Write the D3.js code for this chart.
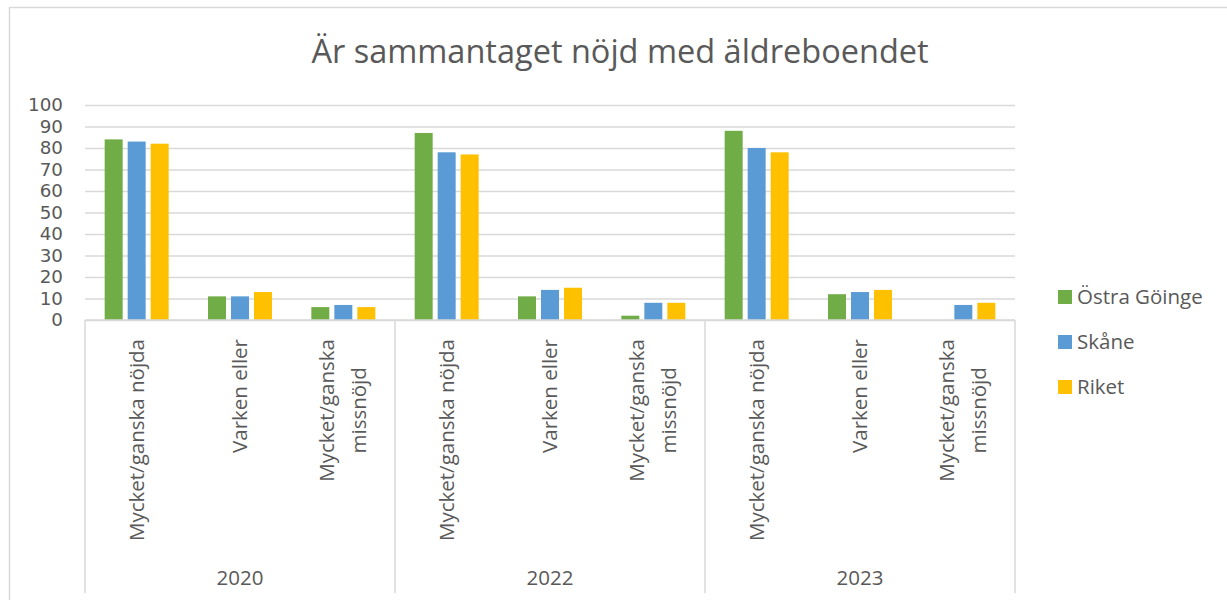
<!DOCTYPE html>
<html>
<head>
<meta charset="utf-8">
<script src="https://cdn.jsdelivr.net/npm/d3@7"></script>
<style>
  body { margin: 0; background: #fff; }
  text { font-family: "Open Sans", "Noto Sans", sans-serif; fill: #595959; }
</style>
</head>
<body>
<div class="chart"></div>
<script>
var svgWidth = 1227;
var svgHeight = 600;

// data
var years = ["2020", "2022", "2023"];
var answers = ["Mycket/ganska nöjda", "Varken eller", "Mycket/ganska missnöjd"];
var answerLines = [["Mycket/ganska nöjda"], ["Varken eller"], ["Mycket/ganska", "missnöjd"]];
var seriesNames = ["Östra Göinge", "Skåne", "Riket"];
var seriesColors = ["#70AD47", "#5B9BD5", "#FFC000"];
var ostraGoinge = [84, 11, 6, 87, 11, 2, 88, 12, null];
var skane = [83, 11, 7, 78, 14, 8, 80, 13, 7];
var riket = [82, 13, 6, 77, 15, 8, 78, 14, 8];
var yTicks = [0, 10, 20, 30, 40, 50, 60, 70, 80, 90, 100];

var seriesValues = [ostraGoinge, skane, riket];

var margin = { top: 105, left: 85 };
var width = 930;
var height = 215;
var axisBottom = 488; // where the category axis lines stop

var svg = d3.select(".chart")
  .append("svg")
  .attr("width", svgWidth)
  .attr("height", svgHeight);

// outer chart border
svg.append("rect")
  .attr("x", 9.5).attr("y", 7.5)
  .attr("width", svgWidth + 10).attr("height", svgHeight + 10)
  .attr("fill", "none")
  .attr("stroke", "#d9d9d9")
  .attr("stroke-width", 1.5);

var chartGroup = svg.append("g")
  .attr("transform", `translate(${margin.left}, ${margin.top})`);

// build the category keys (year + answer)
var cats = [];
years.forEach(function(y) {
  answers.forEach(function(a, j) {
    cats.push({ year: y, answer: a, lines: answerLines[j], key: y + "|" + a });
  });
});

var xScale = d3.scaleBand()
  .domain(cats.map(d => d.key))
  .range([0, width]);

var yearScale = d3.scaleBand()
  .domain(years)
  .range([0, width]);

var groupWidth = 64;
var x1 = d3.scaleBand()
  .domain(seriesNames)
  .range([0, groupWidth])
  .paddingInner(5 / 23);

var yScale = d3.scaleLinear()
  .domain([0, 100])
  .range([height, 0]);

// gridlines + y labels
var leftAxis = d3.axisLeft(yScale)
  .tickValues(yTicks)
  .tickSize(-width)
  .tickPadding(22);

var yAxis = chartGroup.append("g").call(leftAxis);
yAxis.select(".domain").remove();
yAxis.selectAll("line").attr("stroke", "#d9d9d9").attr("stroke-width", 1.5);
yAxis.selectAll("text")
  .attr("font-size", "18.3px")
  .attr("fill", "#595959")
  .style("font-family", "'DejaVu Sans', sans-serif");

// bars
var barData = [];
cats.forEach(function(c, i) {
  seriesNames.forEach(function(s, k) {
    if (seriesValues[k][i] != null) {
      barData.push({ key: c.key, series: s, value: seriesValues[k][i], color: seriesColors[k] });
    }
  });
});

chartGroup.append("g").selectAll("rect")
  .data(barData)
  .enter()
  .append("rect")
  .attr("x", d => xScale(d.key) + (xScale.bandwidth() - groupWidth) / 2 + x1(d.series))
  .attr("y", d => yScale(d.value))
  .attr("width", x1.bandwidth())
  .attr("height", d => height - yScale(d.value))
  .attr("fill", d => d.color);

// category axis lines
var xLines = chartGroup.append("g");
xLines.append("line")
  .attr("x1", 0).attr("x2", 0)
  .attr("y1", height).attr("y2", axisBottom)
  .attr("stroke", "#d9d9d9").attr("stroke-width", 1.5);
years.forEach(function(y) {
  var xe = yearScale(y) + yearScale.bandwidth();
  xLines.append("line")
    .attr("x1", xe).attr("x2", xe)
    .attr("y1", height).attr("y2", axisBottom)
    .attr("stroke", "#d9d9d9").attr("stroke-width", 1.5);
});
xLines.append("line")
  .attr("x1", 0).attr("x2", width)
  .attr("y1", height).attr("y2", height)
  .attr("stroke", "#d9d9d9").attr("stroke-width", 1.5);

// rotated answer labels
var labelGroup = chartGroup.append("g");
cats.forEach(function(c) {
  var cx = xScale(c.key) + xScale.bandwidth() / 2;
  var n = c.lines.length;
  var lineGap = 32;
  var g = labelGroup.append("g");
  var texts = c.lines.map(function(line) {
    return g.append("text")
      .attr("text-anchor", "end")
      .attr("font-size", "20.5px")
      .text(line);
  });
  var maxLen = d3.max(texts, t => t.node().getComputedTextLength());
  // center multi-line labels on the longest line, top aligned
  texts.forEach(function(t, li) {
    var len = t.node().getComputedTextLength();
    var lx = cx + (li - (n - 1) / 2) * lineGap;
    t.attr("transform", `translate(${lx + 7}, ${height + 19 + (maxLen - len) / 2}) rotate(-90)`);
  });
});

// year labels
chartGroup.append("g").selectAll("text")
  .data(years)
  .enter()
  .append("text")
  .attr("x", d => yearScale(d) + yearScale.bandwidth() / 2)
  .attr("y", 480)
  .attr("text-anchor", "middle")
  .attr("font-size", "20.5px")
  .text(d => d);

// title
svg.append("text")
  .attr("x", 620)
  .attr("y", 63)
  .attr("text-anchor", "middle")
  .attr("font-size", "32.5px")
  .text("Är sammantaget nöjd med äldreboendet");

// legend
var legend = svg.append("g")
  .attr("transform", "translate(1058, 290)");
seriesNames.forEach(function(s, k) {
  var row = legend.append("g").attr("transform", `translate(0, ${k * 45})`);
  row.append("rect")
    .attr("width", 14).attr("height", 14)
    .attr("fill", seriesColors[k]);
  row.append("text")
    .attr("x", 19).attr("y", 14)
    .attr("font-size", "20.5px")
    .text(s);
});
</script>
</body>
</html>
